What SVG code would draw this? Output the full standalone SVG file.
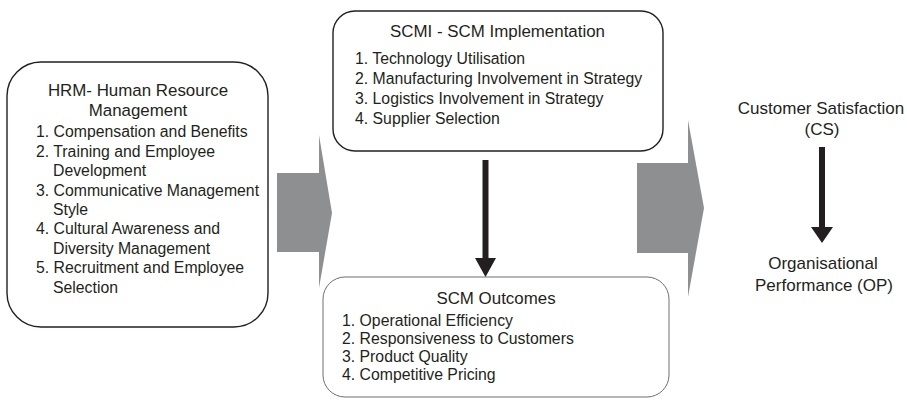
<svg xmlns="http://www.w3.org/2000/svg" width="907" height="402" viewBox="0 0 907 402">
<style>
text{font-family:"Liberation Sans",Arial,sans-serif;fill:#231f20}
.h{font-size:16.9px;text-anchor:middle}
.i{font-size:15.8px}
.r{font-size:17px;text-anchor:middle}
.box{fill:#fff;stroke:#231f20;stroke-width:1.4}
.box2{fill:#fff;stroke:#6e6e6e;stroke-width:1}
.big{fill:#8e8f91}
.blk{fill:#231f20}
</style>
<g id="connectors">
<polygon class="big" points="277,173 319,173 319,135 332,213 319,288 319,252 277,252"/>
<polygon class="big" points="637,163 688,163 688,120 704,208 688,297 688,253 637,253"/>
<polygon class="blk" points="482.5,160 488.5,160 488.5,258 496,258 485.5,277 475,258 482.5,258"/>
<polygon class="blk" points="819,147 825,147 825,227 833,227 822,243 811,227 819,227"/>
</g>
<g id="hrm">
<rect class="box" x="7" y="62" width="261" height="265" rx="34" ry="34"/>
<text class="h" x="138" y="96">HRM- Human Resource</text>
<text class="h" x="138" y="116">Management</text>
<text class="i" x="36" y="137.4">1. Compensation and Benefits</text>
<text class="i" x="36" y="156.8">2. Training and Employee</text>
<text class="i" x="53" y="176.2">Development</text>
<text class="i" x="36" y="195.6">3. Communicative Management</text>
<text class="i" x="53" y="215">Style</text>
<text class="i" x="36" y="234.4">4. Cultural Awareness and</text>
<text class="i" x="53" y="253.8">Diversity Management</text>
<text class="i" x="36" y="273.2">5. Recruitment and Employee</text>
<text class="i" x="53" y="292.6">Selection</text>
</g>
<g id="scmi">
<rect class="box" x="333" y="11" width="330" height="140" rx="22" ry="22"/>
<text class="h" x="497.5" y="36.5">SCMI - SCM Implementation</text>
<text class="i" x="355" y="64">1. Technology Utilisation</text>
<text class="i" x="355" y="84">2. Manufacturing Involvement in Strategy</text>
<text class="i" x="355" y="104">3. Logistics Involvement in Strategy</text>
<text class="i" x="355" y="123.5">4. Supplier Selection</text>
</g>
<g id="outcomes">
<rect class="box2" x="323" y="277" width="346" height="120" rx="22" ry="22"/>
<text class="h" x="496" y="304">SCM Outcomes</text>
<text class="i" x="342" y="325.5">1. Operational Efficiency</text>
<text class="i" x="342" y="343.8">2. Responsiveness to Customers</text>
<text class="i" x="342" y="362.2">3. Product Quality</text>
<text class="i" x="342" y="379.5">4. Competitive Pricing</text>
</g>
<g id="cs">
<text class="r" x="821" y="114">Customer Satisfaction</text>
<text class="r" x="822" y="135">(CS)</text>
</g>
<g id="op">
<text class="r" x="823" y="269">Organisational</text>
<text class="r" x="824" y="291">Performance (OP)</text>
</g>
</svg>
